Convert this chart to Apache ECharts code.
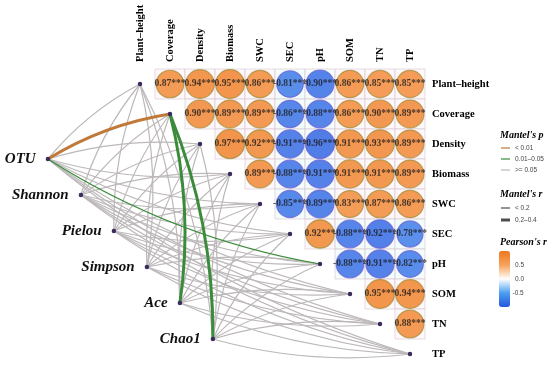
<!DOCTYPE html>
<html><head><meta charset="utf-8">
<script src="https://cdn.jsdelivr.net/npm/echarts@6/dist/echarts.min.js"></script>
<style>html,body{margin:0;padding:0;background:#fff}#c{width:550px;height:369px}</style>
</head><body><div id="c"></div>
<script>
// ---------------- data ----------------
const envNames = ['Plant–height','Coverage','Density','Biomass','SWC','SEC','pH','SOM','TN','TP'];
// upper triangle Pearson's r, row i holds columns i+1..9
const pearsonRows = [
  [0.87, 0.94, 0.95, 0.86, -0.81, -0.90, 0.86, 0.85, 0.85],
  [0.90, 0.89, 0.89, -0.86, -0.88, 0.86, 0.90, 0.89],
  [0.97, 0.92, -0.91, -0.96, 0.91, 0.93, 0.89],
  [0.89, -0.88, -0.91, 0.91, 0.91, 0.89],
  [-0.85, -0.89, 0.83, 0.87, 0.86],
  [0.92, -0.88, -0.92, -0.78],
  [-0.88, -0.91, -0.82],
  [0.95, 0.94],
  [0.88]
];
const pearsonSig = '***';
const speciesNames = ['OTU','Shannon','Pielou','Simpson','Ace','Chao1'];
// Mantel's p class per species x env: 0 '< 0.01', 1 '0.01–0.05', 2 '>= 0.05'
const mantelP = [
  [2,0,2,2,2,2,1,2,2,2],
  [2,2,2,2,2,2,2,2,2,2],
  [2,2,2,2,2,2,2,2,2,2],
  [2,2,2,2,2,2,2,2,2,2],
  [2,1,2,2,2,2,2,2,2,2],
  [2,1,2,2,2,2,2,2,2,2]
];
// Mantel's r class: 0 '< 0.2', 1 '0.2–0.4'
const mantelR = [
  [0,1,0,0,0,0,0,0,0,0],
  [0,0,0,0,0,0,0,0,0,0],
  [0,0,0,0,0,0,0,0,0,0],
  [0,0,0,0,0,0,0,0,0,0],
  [0,1,0,0,0,0,0,0,0,0],
  [0,1,0,0,0,0,0,0,0,0]
];
const pLabels = ['< 0.01', '0.01–0.05', '>= 0.05'];
const rLabels = ['< 0.2', '0.2–0.4'];
const colorTicks = [0.5, 0.0, -0.5];

// ---------------- layout / style ----------------
const CELL = 30, GL = 140, GT = 84;
const spStart = [-3.07, 2.5], spStep = [1.1, 1.2];
const pColors = ['#bf7a3a', '#3a8c3a', '#bdb8ba'];
const rWidths = [1.2, 3];
const serif = 'Liberation Serif';
const sans = 'Liberation Sans';

const cells = [], circles = [];
pearsonRows.forEach((row, i) => row.forEach((r, k) => {
  const j = i + 1 + k;
  cells.push({value: [j, i], itemStyle: {color: r > 0 ? '#fff6fa' : '#f1fdfd'}});
  circles.push({value: [j, i, r], itemStyle: {borderColor: r > 0 ? '#a8903c' : '#6a62d4', borderWidth: 1.2}});
}));

const nodes = [];
envNames.forEach((n, i) => nodes.push({name: n, value: [i, i], symbolSize: 4.5}));
speciesNames.forEach((n, k) => nodes.push({
  name: n, value: [spStart[0] + spStep[0] * k, spStart[1] + spStep[1] * k], symbolSize: 4.5,
  label: {show: true, position: 'left', distance: 10, fontFamily: serif, fontWeight: 'bold',
          fontStyle: 'italic', fontSize: 15, color: '#111'}
}));
function px(v) { return [GL + v[0] * CELL, GT + v[1] * CELL]; }
const links = [];
speciesNames.forEach((s, k) => envNames.forEach((e, i) => {
  const a = px(nodes[envNames.length + k].value), b = px(nodes[i].value);
  const dx = b[0] - a[0], dyUp = a[1] - b[1];
  const c = (dx * dyUp >= 0 ? 1 : -1) * 0.1;
  links.push({source: s, target: e, p: mantelP[k][i],
    lineStyle: {color: pColors[mantelP[k][i]], width: rWidths[mantelR[k][i]], curveness: c, opacity: 1}});
}));
links.sort((a, b) => b.p - a.p);

const axisLab = {fontFamily: serif, fontWeight: 'bold', fontSize: 10.5, color: '#000', margin: 22,
  showMinLabel: true, showMaxLabel: true, formatter: v => envNames[v] || ''};

// legend graphics
const g = [];
const LX = 500;
function title(t, y) { g.push({type: 'text', left: LX, top: y - 6, style: {text: t, font: 'italic bold 10px ' + serif, fill: '#000'}}); }
title("Mantel's p", 136);
pLabels.forEach((t, k) => {
  const y = 148 + 11 * k;
  g.push({type: 'line', shape: {x1: 501, y1: y, x2: 510, y2: y}, style: {stroke: pColors[k], lineWidth: 1.2}});
  g.push({type: 'text', x: 515, y: y, style: {text: t, font: '6.5px ' + sans, fill: '#444', textVerticalAlign: 'middle'}});
});
title("Mantel's r", 195);
rLabels.forEach((t, k) => {
  const y = 208 + 12 * k;
  g.push({type: 'line', shape: {x1: 501, y1: y, x2: 510, y2: y}, style: {stroke: '#4d4d4d', lineWidth: rWidths[k]}});
  g.push({type: 'text', x: 515, y: y, style: {text: t, font: '6.5px ' + sans, fill: '#444', textVerticalAlign: 'middle'}});
});
title("Pearson's r", 243);
const CB_TOP = 251, CB_H = 56;
colorTicks.forEach(v => {
  g.push({type: 'text', x: v < 0 ? 512.5 : 515, y: CB_TOP + (1 - v) / 2 * CB_H,
    style: {text: v.toFixed(1), font: '6.5px ' + sans, fill: '#444', textVerticalAlign: 'middle'}});
});

const chart = echarts.init(document.getElementById('c'));
chart.setOption({
  animation: false,
  backgroundColor: '#fff',
  grid: {left: GL, top: GT, width: 9 * CELL, height: 9 * CELL},
  xAxis: {type: 'value', min: 0, max: 9, interval: 1, position: 'top',
    axisLine: {show: false}, axisTick: {show: false}, splitLine: {show: false},
    axisLabel: Object.assign({rotate: 90}, axisLab)},
  yAxis: {type: 'value', min: 0, max: 9, interval: 1, inverse: true, position: 'right',
    axisLine: {show: false}, axisTick: {show: false}, splitLine: {show: false},
    axisLabel: axisLab},
  visualMap: {type: 'continuous', min: -1, max: 1, dimension: 2, seriesIndex: 1, calculable: false,
    left: 499, top: CB_TOP, itemWidth: 11, itemHeight: CB_H, padding: 0,
    inRange: {color: ['#2556e0', '#4a9ff0', '#ffffff', '#f6a25a', '#ef781c']}},
  graphic: g,
  series: [
    {type: 'scatter', data: cells, symbol: 'rect', symbolSize: CELL, clip: false, silent: true, z: 1,
     itemStyle: {borderColor: '#d6c8cf', borderWidth: 0.8}},
    {type: 'scatter', data: circles, clip: false, z: 2,
     symbolSize: v => 29.5 * Math.sqrt(Math.abs(v[2])),
     label: {show: true, position: 'inside', fontFamily: serif, fontWeight: 'bold', fontSize: 9.5, color: '#1a1a1a',
       formatter: p => p.value[2].toFixed(2) + pearsonSig}},
    {type: 'graph', coordinateSystem: 'cartesian2d', layout: 'none', data: nodes, links: links, z: 3,
     itemStyle: {color: '#3b2b5e'}, label: {show: false}, edgeSymbol: ['none', 'none']}
  ]
});
</script></body></html>
